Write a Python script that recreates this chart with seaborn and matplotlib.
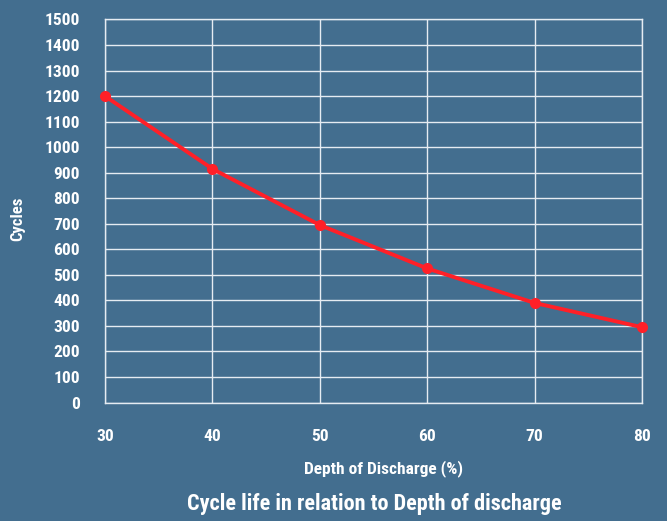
import matplotlib
matplotlib.use("Agg")
import pandas as pd
import seaborn as sns
from matplotlib import pyplot as plt
from matplotlib import font_manager

depth = [30, 40, 50, 60, 70, 80]
cycles = [1200, 915, 695, 525, 390, 295]

bg = "#436e8f"
sns.set_theme(style="white")

# condensed bold look, pick the first one installed
names = {f.name for f in font_manager.fontManager.ttflist}
wanted = ["Roboto Condensed", "Barlow Semi Condensed", "Barlow Condensed",
          "Oswald", "Liberation Sans Narrow", "DejaVu Sans"]
fam = [n for n in wanted if n in names][0]
plt.rcParams["font.family"] = [fam, "DejaVu Sans"]

df = pd.DataFrame({"depth": depth, "cycles": cycles})

fig = plt.figure(figsize=(6.67, 5.21), dpi=100, facecolor=bg)
ax = fig.add_axes([0.1574, 0.2274, 0.8051, 0.7352])
ax.set_facecolor(bg)

sns.lineplot(data=df, x="depth", y="cycles", ax=ax, color="#ff2028",
             linewidth=2.8, marker="o", markersize=8, markeredgewidth=0,
             zorder=5, clip_on=False)

ax.set_xlim(30, 80)
ax.set_ylim(0, 1500)
ax.set_xticks(range(30, 81, 10))
ax.set_yticks(range(0, 1501, 100))
ax.grid(True, color="#e6ecf2", linewidth=1.0)
for s in ax.spines.values():
    s.set_color("#e6ecf2")
    s.set_linewidth(1.0)

ax.tick_params(axis="both", length=0, colors="white", labelsize=12.5)
ax.tick_params(axis="y", pad=18)
ax.tick_params(axis="x", pad=19)
for lab in ax.get_xticklabels() + ax.get_yticklabels():
    lab.set_fontweight("bold")

ax.set_xlabel("")
ax.set_ylabel("")
fig.text(0.027, 0.58, "Cycles", rotation=90, color="white", fontsize=12,
         fontweight="bold", ha="center", va="center")
fig.text(0.575, 0.101, "Depth of Discharge (%)", color="white", fontsize=12.5,
         fontweight="bold", ha="center", va="center")
fig.text(0.561, 0.033, "Cycle life in relation to Depth of discharge",
         color="white", fontsize=16, fontweight="bold", ha="center", va="center")

fig.savefig("out.png", dpi=100, facecolor=bg)
